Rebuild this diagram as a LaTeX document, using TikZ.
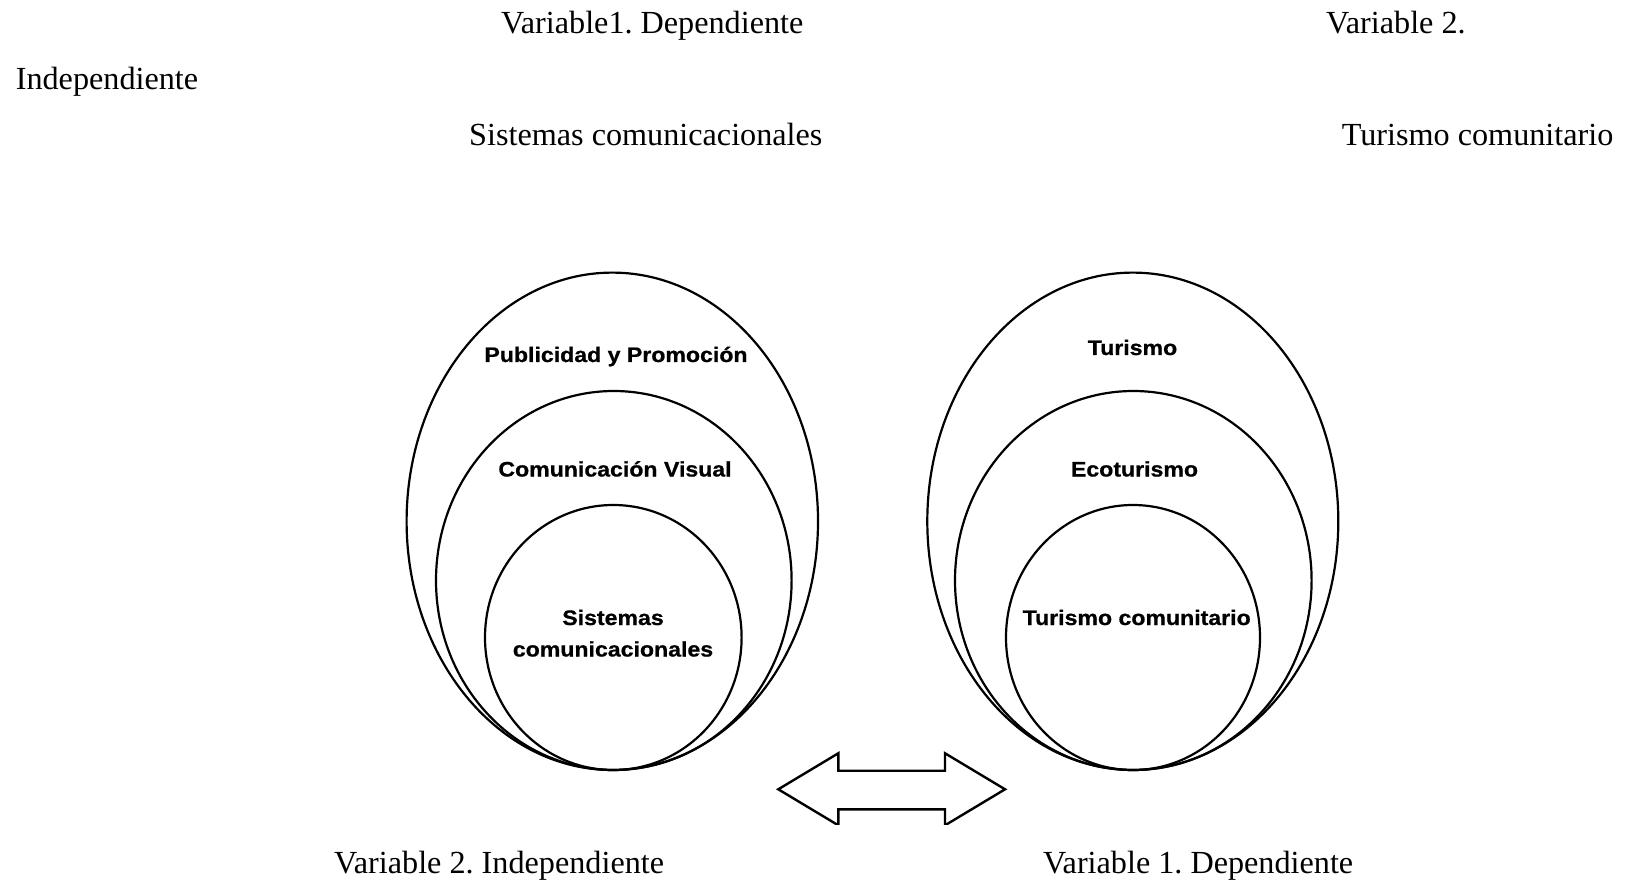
\documentclass[tikz,border=0pt]{standalone}
\usepackage{fontspec}
\setmainfont{Liberation Serif}
\newfontfamily\lblfont{Liberation Sans}[FakeStretch=1.1,FakeBold=0.8]
\frenchspacing
\begin{document}
\begin{tikzpicture}[x=1pt,y=-1pt,
  caption/.style={anchor=base west,inner sep=0pt,font=\fontsize{32.2}{36}\selectfont},
  ringlabel/.style={anchor=base,inner sep=0pt,font=\lblfont\bfseries\fontsize{21}{24}\selectfont},
  ring/.style={draw=black,line width=2.2pt},
  twoway/.style={draw=black,line width=2.4pt,line join=miter,fill=white}]
\useasboundingbox (0,0) rectangle (1627,882);

% heading lines
\node[caption] (v1top) at (501,33.5) {Variable1. Dependiente};
\node[caption] (v2top) at (1326,33.5) {Variable 2.};
\node[caption] (indtop) at (15.6,89.5) {Independiente};
\node[caption] (systop) at (469,146) {Sistemas comunicacionales};
\node[caption] (turtop) at (1341.6,146) {Turismo comunitario};

% left set of nested ellipses
\draw[ring] (612.3,521.3) ellipse [x radius=205.7,y radius=248.7];
\draw[ring] (613.8,580.5) ellipse [x radius=177.8,y radius=189.5];
\draw[ring] (613.3,637.5) ellipse [x radius=128.3,y radius=132.5];
\node[ringlabel] (pub) at (616,362) {Publicidad y Promoción};
\node[ringlabel] (cvis) at (615,476.5) {Comunicación Visual};
\node[ringlabel] (sis1) at (613,625) {Sistemas};
\node[ringlabel] (sis2) at (613,656.5) {comunicacionales};

% right set of nested ellipses
\draw[ring] (1132.8,521.3) ellipse [x radius=205.5,y radius=248.7];
\draw[ring] (1133.3,580.5) ellipse [x radius=178.3,y radius=189.5];
\draw[ring] (1133,637.5) ellipse [x radius=127,y radius=132.5];
\node[ringlabel] (tur) at (1132.5,355) {Turismo};
\node[ringlabel] (eco) at (1134.5,476.5) {Ecoturismo};
\node[ringlabel] (tcom) at (1136.7,625) {Turismo comunitario};

% double-headed block arrow, cut off at its lower edge
\begin{scope}
\clip (700,740) rectangle (1040,824);
\draw[twoway] (778.3,789.3) -- (838.3,753.3) -- (838.3,770.7) -- (945,770.7)
  -- (945,753.3) -- (1005,789.3) -- (945,825.3) -- (945,809.3)
  -- (838.3,809.3) -- (838.3,825.3) -- cycle;
\end{scope}

% bottom captions
\node[caption] (v2bot) at (334,873) {Variable 2. Independiente};
\node[caption] (v1bot) at (1042.8,873) {Variable 1. Dependiente};
\end{tikzpicture}
\end{document}
